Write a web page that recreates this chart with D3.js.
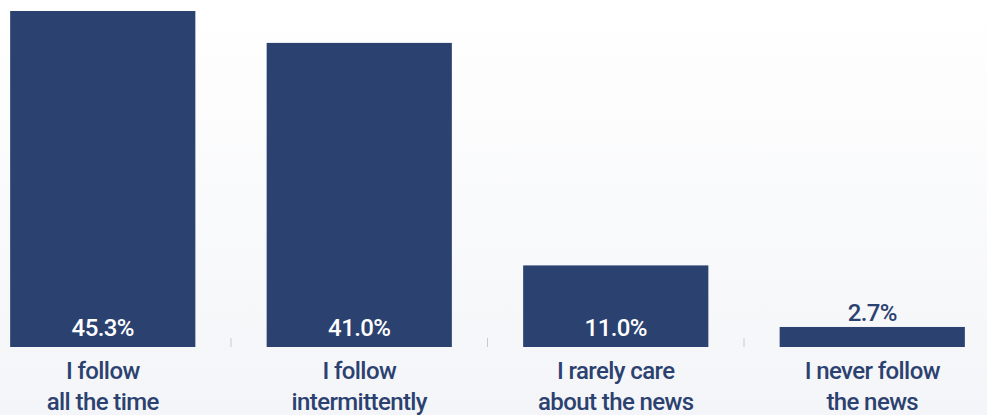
<!DOCTYPE html>
<html>
<head>
<meta charset="utf-8">
<script src="https://cdn.jsdelivr.net/npm/d3@7"></script>
<style>
  html, body { margin: 0; padding: 0; background: #fff; }
  svg { display: block; }
  text { font-family: Roboto, "Noto Sans", sans-serif; font-weight: 500; letter-spacing: -0.6px; }
</style>
</head>
<body>
<div id="chart"></div>
<script>
// Survey: how often respondents follow the news
const categories = [
  ["I follow", "all the time"],
  ["I follow", "intermittently"],
  ["I rarely care", "about the news"],
  ["I never follow", "the news"]
];
const values = [45.3, 41.0, 11.0, 2.7];
const valueLabels = ["45.3%", "41.0%", "11.0%", "2.7%"];

const W = 987, H = 415;
const baseY = 347;
const navy = "#2b4170";

const svg = d3.select("#chart").append("svg")
  .attr("width", W).attr("height", H);

const defs = svg.append("defs");
const grad = defs.append("linearGradient")
  .attr("id", "bg").attr("x1", 0).attr("y1", 0).attr("x2", 0).attr("y2", 1);
grad.append("stop").attr("offset", "0%").attr("stop-color", "#ffffff");
grad.append("stop").attr("offset", "100%").attr("stop-color", "#f4f5f8");
svg.append("rect").attr("width", W).attr("height", H).attr("fill", "url(#bg)");

const keys = categories.map((d, i) => i);
const x = d3.scaleBand().domain(keys).range([-25.5, 1000.5]).paddingInner(0.278).paddingOuter(0.139);
const y = d3.scaleLinear().domain([0, 45.3]).range([baseY, 11]);

// tick marks between categories
const step = x.step();
svg.append("g").selectAll("line")
  .data(keys.slice(1))
  .join("line")
  .attr("x1", d => x(d) - (step - x.bandwidth()) / 2)
  .attr("x2", d => x(d) - (step - x.bandwidth()) / 2)
  .attr("y1", baseY - 9).attr("y2", baseY)
  .attr("stroke", "#c2cbdb").attr("stroke-width", 1);

// bars
svg.append("g").selectAll("rect")
  .data(values)
  .join("rect")
  .attr("x", (d, i) => x(i))
  .attr("width", x.bandwidth())
  .attr("y", d => y(d))
  .attr("height", d => baseY - y(d))
  .attr("fill", navy);

// value labels: inside the bar when it is tall enough, above otherwise
svg.append("g").selectAll("text")
  .data(values)
  .join("text")
  .attr("x", (d, i) => x(i) + x.bandwidth() / 2)
  .attr("y", d => (baseY - y(d) > 30) ? baseY - 11 : y(d) - 6)
  .attr("text-anchor", "middle")
  .attr("font-size", 24)
  .attr("fill", d => (baseY - y(d) > 30) ? "#ffffff" : navy)
  .text((d, i) => valueLabels[i]);

// category labels
const cat = svg.append("g").selectAll("text")
  .data(categories)
  .join("text")
  .attr("text-anchor", "middle")
  .attr("font-size", 24)
  .attr("fill", navy);
cat.each(function(lines, i) {
  const t = d3.select(this);
  lines.forEach((ln, j) => {
    t.append("tspan")
      .attr("x", x(i) + x.bandwidth() / 2)
      .attr("y", 379 + j * 31)
      .text(ln);
  });
});
</script>
</body>
</html>
